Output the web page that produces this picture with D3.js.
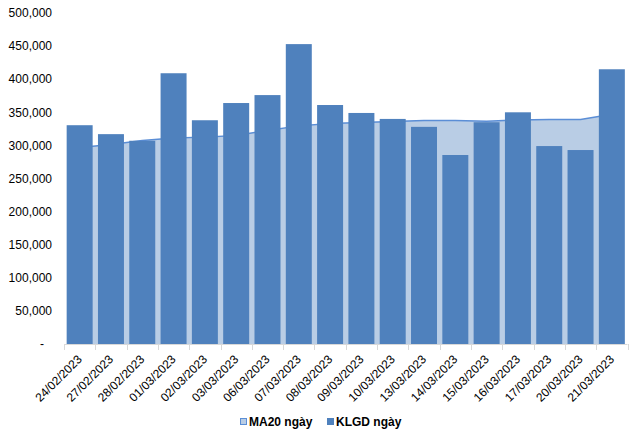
<!DOCTYPE html>
<html><head><meta charset="utf-8">
<script src="https://cdn.jsdelivr.net/npm/d3@7/dist/d3.min.js"></script>
<style>body{margin:0;background:#fff}svg{display:block;font-family:"Liberation Sans",Arial,sans-serif}</style>
</head><body><svg id="c" width="638" height="437"></svg>
<script>
const categories = ["24/02/2023","27/02/2023","28/02/2023","01/03/2023","02/03/2023","03/03/2023","06/03/2023","07/03/2023","08/03/2023","09/03/2023","10/03/2023","13/03/2023","14/03/2023","15/03/2023","16/03/2023","17/03/2023","20/03/2023","21/03/2023"];
const klgd = [330500,317000,307000,409000,338000,364000,376000,453000,361000,349000,340000,328000,285500,335000,350000,299000,293000,415000];
const ma20 = [297000,301500,307500,311000,312500,315000,322500,329500,333000,334500,336000,337500,337500,336500,338500,339000,339000,347000];
const yTicks = [0,50000,100000,150000,200000,250000,300000,350000,400000,450000,500000];
const seriesNames = ["MA20 ngày","KLGD ngày"];

const svg = d3.select("#c");
const x = d3.scaleBand().domain(categories).range([64,627.5]).paddingInner(0.17).paddingOuter(0.085);
const y = d3.scaleLinear().domain([0,500000]).range([344,13]);
const fmt = d3.format(",");

// y labels
svg.append("g").selectAll("text").data(yTicks).join("text")
  .attr("x", d => d===0 ? 44 : 52).attr("y", d => y(d)).attr("dy","0.35em")
  .attr("text-anchor","end").attr("font-size",12).attr("fill","#000")
  .text(d => d===0 ? "-" : fmt(d));

// area MA20
const cx = d => x(d) + x.bandwidth()/2;
const area = d3.area().x((d,i)=>cx(categories[i])).y0(y(0)).y1(d=>y(d));
const line = d3.line().x((d,i)=>cx(categories[i])).y(d=>y(d));
svg.append("path").datum(ma20).attr("d",area).attr("fill","#B9CDE5");
svg.append("path").datum(ma20).attr("d",line).attr("fill","none").attr("stroke","#5B8ED6").attr("stroke-width",1.5);

// bars
svg.append("g").selectAll("rect").data(klgd).join("rect")
  .attr("x",(d,i)=>x(categories[i])).attr("width",x.bandwidth())
  .attr("y",d=>y(d)).attr("height",d=>y(0)-y(d)).attr("fill","#4F81BD");

// x axis
const ax = svg.append("g");
ax.append("line").attr("x1",64).attr("x2",627.5).attr("y1",344.5).attr("y2",344.5).attr("stroke","#D9D9D9");
const bounds = d3.range(categories.length+1).map(i=>64 + i*(627.5-64)/categories.length);
ax.selectAll("line.t").data(bounds).join("line").attr("class","t")
  .attr("x1",d=>Math.round(d)+0.5).attr("x2",d=>Math.round(d)+0.5).attr("y1",344).attr("y2",350).attr("stroke","#D9D9D9");
ax.selectAll("text").data(categories).join("text")
  .attr("transform",d=>`translate(${cx(d)+3},${360}) rotate(-45)`)
  .attr("text-anchor","end").attr("font-size",12).attr("fill","#000").text(d=>d);

// legend
const lg = svg.append("g");
lg.append("rect").attr("x",240.5).attr("y",418.5).attr("width",6).attr("height",6).attr("fill","#B9CDE5").attr("stroke","#5B8ED6");
lg.append("text").attr("x",249).attr("y",425.5).attr("font-size",12).attr("font-weight","bold").text(seriesNames[0]);
lg.append("rect").attr("x",327).attr("y",418).attr("width",7).attr("height",7).attr("fill","#4F81BD");
lg.append("text").attr("x",336).attr("y",425.5).attr("font-size",12).attr("font-weight","bold").text(seriesNames[1]);
</script></body></html>
